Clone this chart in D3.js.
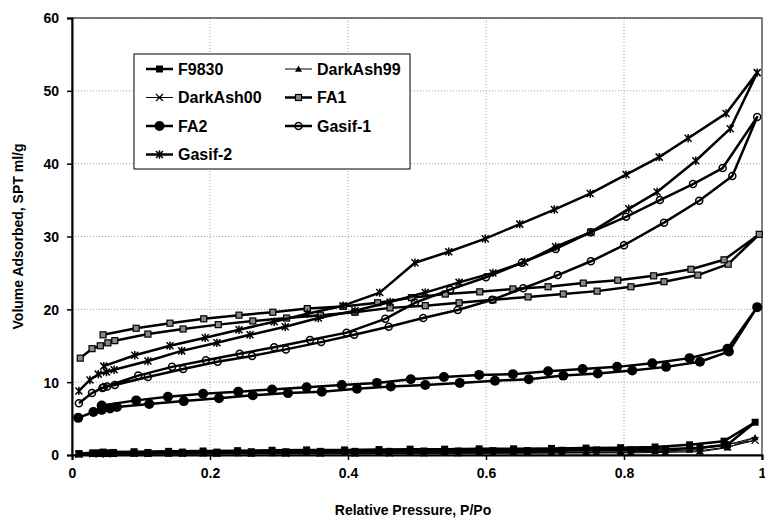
<!DOCTYPE html>
<html>
<head>
<meta charset="utf-8">
<script src="https://cdn.jsdelivr.net/npm/d3@7"></script>
<style>
  body { margin: 0; background: #fff; }
  text { font-family: "Liberation Sans", Arial, sans-serif; font-weight: bold; }
</style>
</head>
<body>
<div id="plot"></div>
<script>
// isotherm data: adsorption branch up, then desorption branch back down
var pressureStd = [0.01, 0.03, 0.04, 0.05, 0.06, 0.11, 0.16, 0.21, 0.26, 0.31, 0.36, 0.41, 0.46, 0.51, 0.56, 0.61, 0.66, 0.71, 0.76, 0.81, 0.86, 0.91, 0.95, 0.99,
  0.945, 0.895, 0.845, 0.795, 0.745, 0.695, 0.64, 0.59, 0.54, 0.49, 0.445, 0.395, 0.34, 0.29, 0.24, 0.19, 0.14, 0.09, 0.045]

var volF9830 = [0.2, 0.3, 0.3, 0.3, 0.35, 0.35, 0.4, 0.4, 0.45, 0.45, 0.5, 0.5, 0.5, 0.55, 0.55, 0.6, 0.6, 0.65, 0.7, 0.7, 0.8, 1.0, 1.4, 4.5,
  1.9, 1.4, 1.1, 1.0, 0.95, 0.9, 0.85, 0.85, 0.8, 0.8, 0.75, 0.7, 0.7, 0.65, 0.6, 0.55, 0.5, 0.45, 0.4]

var volDarkAsh99 = [0.05, 0.1, 0.1, 0.1, 0.1, 0.12, 0.14, 0.15, 0.16, 0.17, 0.18, 0.19, 0.2, 0.21, 0.22, 0.23, 0.24, 0.26, 0.28, 0.3, 0.35, 0.45, 1.0, 2.4,
  1.3, 0.7, 0.5, 0.4, 0.35, 0.33, 0.3, 0.3, 0.28, 0.27, 0.26, 0.25, 0.24, 0.22, 0.2, 0.18, 0.16, 0.14, 0.12]

var volDarkAsh00 = [0.1, 0.15, 0.15, 0.15, 0.2, 0.2, 0.22, 0.24, 0.25, 0.26, 0.27, 0.28, 0.3, 0.31, 0.32, 0.33, 0.35, 0.37, 0.4, 0.42, 0.48, 0.6, 1.1, 2.0,
  1.4, 0.9, 0.7, 0.6, 0.55, 0.5, 0.48, 0.46, 0.44, 0.42, 0.4, 0.38, 0.36, 0.34, 0.32, 0.3, 0.27, 0.24, 0.2]

var pressureFA1 = [0.012, 0.029, 0.041, 0.052, 0.062, 0.11, 0.161, 0.212, 0.262, 0.311, 0.36, 0.41, 0.461, 0.512, 0.561, 0.61, 0.661, 0.712, 0.761, 0.81, 0.858, 0.907, 0.951, 0.996,
  0.945, 0.897, 0.843, 0.791, 0.741, 0.69, 0.639, 0.591, 0.541, 0.492, 0.443, 0.393, 0.341, 0.291, 0.242, 0.191, 0.142, 0.093, 0.045]
var volFA1 = [13.3, 14.6, 15.0, 15.4, 15.7, 16.6, 17.3, 17.9, 18.4, 18.8, 19.2, 19.6, 20.2, 20.5, 20.9, 21.3, 21.7, 22.1, 22.5, 23.1, 23.8, 24.7, 26.2, 30.3,
  26.8, 25.5, 24.6, 24.0, 23.6, 23.1, 22.8, 22.4, 22.1, 21.6, 20.9, 20.4, 20.1, 19.6, 19.2, 18.7, 18.1, 17.4, 16.5]

var pressureFA2 = [0.009, 0.031, 0.043, 0.055, 0.065, 0.112, 0.162, 0.213, 0.262, 0.313, 0.362, 0.413, 0.462, 0.512, 0.562, 0.613, 0.662, 0.712, 0.762, 0.812, 0.861, 0.91, 0.952, 0.993,
  0.95, 0.895, 0.841, 0.79, 0.74, 0.69, 0.639, 0.59, 0.539, 0.491, 0.442, 0.391, 0.34, 0.29, 0.241, 0.19, 0.139, 0.093, 0.043]
var volFA2 = [5.1, 5.9, 6.2, 6.4, 6.6, 7.0, 7.4, 7.8, 8.2, 8.5, 8.7, 9.1, 9.4, 9.6, 9.9, 10.2, 10.4, 10.9, 11.2, 11.6, 12.1, 12.8, 14.2, 20.3,
  14.6, 13.3, 12.6, 12.1, 11.8, 11.5, 11.1, 11.0, 10.7, 10.4, 9.9, 9.6, 9.3, 9.0, 8.7, 8.4, 8.0, 7.5, 6.8]

var pressureGasif1 = [0.01, 0.029, 0.044, 0.051, 0.062, 0.11, 0.161, 0.211, 0.261, 0.31, 0.361, 0.409, 0.459, 0.509, 0.559, 0.609, 0.654, 0.704, 0.752, 0.8, 0.858, 0.909, 0.957, 0.993,
  0.943, 0.9, 0.852, 0.803, 0.752, 0.701, 0.652, 0.6, 0.548, 0.497, 0.454, 0.398, 0.345, 0.293, 0.243, 0.194, 0.145, 0.096, 0.046]
var volGasif1 = [7.1, 8.5, 9.2, 9.4, 9.6, 10.7, 11.8, 12.8, 13.6, 14.5, 15.5, 16.5, 17.6, 18.8, 19.9, 21.3, 22.9, 24.7, 26.6, 28.8, 31.9, 34.9, 38.3, 46.4,
  39.4, 37.2, 35.0, 32.7, 30.6, 28.3, 26.4, 24.4, 22.7, 20.9, 18.7, 16.8, 15.8, 14.8, 13.9, 13.0, 12.1, 10.9, 9.3]

var pressureGasif2 = [0.01, 0.026, 0.038, 0.05, 0.061, 0.11, 0.159, 0.21, 0.258, 0.309, 0.357, 0.41, 0.461, 0.512, 0.561, 0.61, 0.656, 0.701, 0.752, 0.807, 0.848, 0.904, 0.954, 0.993,
  0.948, 0.893, 0.851, 0.803, 0.751, 0.699, 0.649, 0.599, 0.546, 0.497, 0.446, 0.393, 0.341, 0.293, 0.242, 0.193, 0.142, 0.091, 0.046]
var volGasif2 = [8.8, 10.3, 11.1, 11.4, 11.7, 12.9, 14.3, 15.4, 16.5, 17.6, 18.8, 19.8, 21.0, 22.3, 23.7, 25.0, 26.5, 28.6, 30.6, 33.8, 36.1, 40.4, 44.8, 52.5,
  46.9, 43.5, 40.9, 38.5, 35.9, 33.7, 31.7, 29.7, 27.9, 26.4, 22.3, 20.5, 19.4, 18.3, 17.2, 16.1, 15.0, 13.7, 12.2]

var xTicks = [0, 0.2, 0.4, 0.6, 0.8, 1]
var yTicks = [0, 10, 20, 30, 40, 50, 60]
var xTickLabels = ["0", "0.2", "0.4", "0.6", "0.8", "1"]

var svgWidth = 765
var svgHeight = 525

var margin = { top: 18, right: 3, bottom: 70, left: 72 }
var width = svgWidth - margin.left - margin.right
var height = svgHeight - margin.top - margin.bottom

var svg = d3.select("#plot")
  .append("svg")
  .attr("width", svgWidth)
  .attr("height", svgHeight)

var chartGroup = svg.append("g")
  .attr("transform", `translate(${margin.left}, ${margin.top})`)

var xScale = d3.scaleLinear().domain([0, 1]).range([0, width])
var yScale = d3.scaleLinear().domain([0, 60]).range([height, 0])

// dotted gridlines
chartGroup.append("g")
  .selectAll("line")
  .data(yTicks.slice(1))
  .enter()
  .append("line")
  .attr("x1", 0).attr("x2", width)
  .attr("y1", d => yScale(d)).attr("y2", d => yScale(d))
  .attr("stroke", "#a0a0a0")
  .attr("stroke-dasharray", "1,2")

chartGroup.append("g")
  .selectAll("line")
  .data(xTicks.slice(1, -1))
  .enter()
  .append("line")
  .attr("y1", 0).attr("y2", height)
  .attr("x1", d => xScale(d)).attr("x2", d => xScale(d))
  .attr("stroke", "#a0a0a0")
  .attr("stroke-dasharray", "1,2")

// plot area border
chartGroup.append("rect")
  .attr("width", width)
  .attr("height", height)
  .attr("fill", "none")
  .attr("stroke", "#000")
  .attr("stroke-width", 1)

// axes
var bottomAxis = d3.axisBottom(xScale)
  .tickValues(xTicks)
  .tickFormat((d, i) => xTickLabels[i])
  .tickSize(5)
  .tickPadding(8)
var leftAxis = d3.axisLeft(yScale)
  .tickValues(yTicks)
  .tickSize(5)
  .tickPadding(8)

var xAxisG = chartGroup.append("g")
  .attr("transform", `translate(0, ${height})`)
  .call(bottomAxis)
var yAxisG = chartGroup.append("g")
  .call(leftAxis)

;[xAxisG, yAxisG].forEach(g => {
  g.select(".domain").attr("stroke", "#000").attr("stroke-width", 2)
  g.selectAll(".tick line").attr("stroke", "#000").attr("stroke-width", 1.5)
  g.selectAll("text")
    .style("font-size", "14px")
    .style("font-family", "Liberation Sans, Arial, sans-serif")
    .style("font-weight", "bold")
    .attr("fill", "#000")
})
yAxisG.selectAll(".tick text").attr("dy", "0.35em")

// axis labels
chartGroup.append("text")
  .attr("transform", "rotate(-90)")
  .attr("x", -height / 2)
  .attr("y", -margin.left + 23)
  .attr("text-anchor", "middle")
  .style("font-size", "14px")
  .text("Volume Adsorbed, SPT ml/g")

chartGroup.append("text")
  .attr("x", width / 2 - 4)
  .attr("y", height + 60)
  .attr("text-anchor", "middle")
  .style("font-size", "14px")
  .text("Relative Pressure, P/Po")

// marker paths
function asteriskPath(s) {
  var h = s / 2
  return `M${-h},${-h}L${h},${h}M${-h},${h}L${h},${-h}M0,${-h * 1.2}L0,${h * 1.2}`
}
function crossPath(s) {
  var h = s / 2
  return `M${-h},${-h}L${h},${h}M${-h},${h}L${h},${-h}`
}

var series = [
  { name: "F9830", p: pressureStd, v: volF9830, lw: 2.5, marker: "square", size: 7, fill: "#000" },
  { name: "DarkAsh99", p: pressureStd, v: volDarkAsh99, lw: 1, marker: "triangle", size: 7, fill: "#000" },
  { name: "DarkAsh00", p: pressureStd, v: volDarkAsh00, lw: 1, marker: "cross", size: 7, fill: "none" },
  { name: "FA1", p: pressureFA1, v: volFA1, lw: 2.5, marker: "square", size: 6, fill: "#888" },
  { name: "FA2", p: pressureFA2, v: volFA2, lw: 2.5, marker: "circle", size: 10, fill: "#000" },
  { name: "Gasif-1", p: pressureGasif1, v: volGasif1, lw: 2.5, marker: "circle", size: 7, fill: "none" },
  { name: "Gasif-2", p: pressureGasif2, v: volGasif2, lw: 2.5, marker: "asterisk", size: 7, fill: "none" }
]

function drawMarker(g, s, x, y) {
  if (s.marker === "square") {
    g.append("rect")
      .attr("x", x - s.size / 2).attr("y", y - s.size / 2)
      .attr("width", s.size).attr("height", s.size)
      .attr("fill", s.fill)
      .attr("stroke", "#000").attr("stroke-width", s.fill === "#000" ? 0 : 1.2)
  } else if (s.marker === "circle") {
    g.append("circle")
      .attr("cx", x).attr("cy", y).attr("r", s.size / 2)
      .attr("fill", s.fill)
      .attr("stroke", "#000").attr("stroke-width", s.fill === "#000" ? 0 : 1.5)
  } else if (s.marker === "triangle") {
    var h = s.size / 2
    g.append("path")
      .attr("d", `M${x},${y - h}L${x + h},${y + h * 0.8}L${x - h},${y + h * 0.8}Z`)
      .attr("fill", "#000")
  } else if (s.marker === "cross") {
    g.append("path")
      .attr("transform", `translate(${x},${y})`)
      .attr("d", crossPath(s.size))
      .attr("stroke", "#000").attr("stroke-width", 1.2).attr("fill", "none")
  } else {
    g.append("path")
      .attr("transform", `translate(${x},${y})`)
      .attr("d", asteriskPath(s.size))
      .attr("stroke", "#000").attr("stroke-width", 1.5).attr("fill", "none")
  }
}

var line = d3.line()
  .x(d => xScale(d[0]))
  .y(d => yScale(d[1]))

series.forEach(s => {
  var pts = s.p.map((p, i) => [p, s.v[i]])
  var g = chartGroup.append("g")
  g.append("path")
    .datum(pts)
    .attr("d", line)
    .attr("fill", "none")
    .attr("stroke", "#000")
    .attr("stroke-width", s.lw)
    .attr("stroke-linejoin", "round")
  pts.forEach(d => drawMarker(g, s, xScale(d[0]), yScale(d[1])))
})

// legend
var legend = svg.append("g")
legend.append("rect")
  .attr("x", 134).attr("y", 54)
  .attr("width", 276).attr("height", 115)
  .attr("fill", "#fff")
  .attr("stroke", "#000")
  .attr("stroke-width", 1)

series.forEach((s, i) => {
  var col = i % 2
  var row = Math.floor(i / 2)
  var lx = col === 0 ? 146 : 285
  var ly = 69 + row * 28.5
  legend.append("line")
    .attr("x1", lx).attr("x2", lx + 27)
    .attr("y1", ly).attr("y2", ly)
    .attr("stroke", "#000")
    .attr("stroke-width", s.lw)
  drawMarker(legend, s, lx + 13.5, ly)
  legend.append("text")
    .attr("x", lx + 32)
    .attr("y", ly)
    .attr("dy", "0.36em")
    .style("font-size", "16px")
    .text(s.name)
})
</script>
</body>
</html>
